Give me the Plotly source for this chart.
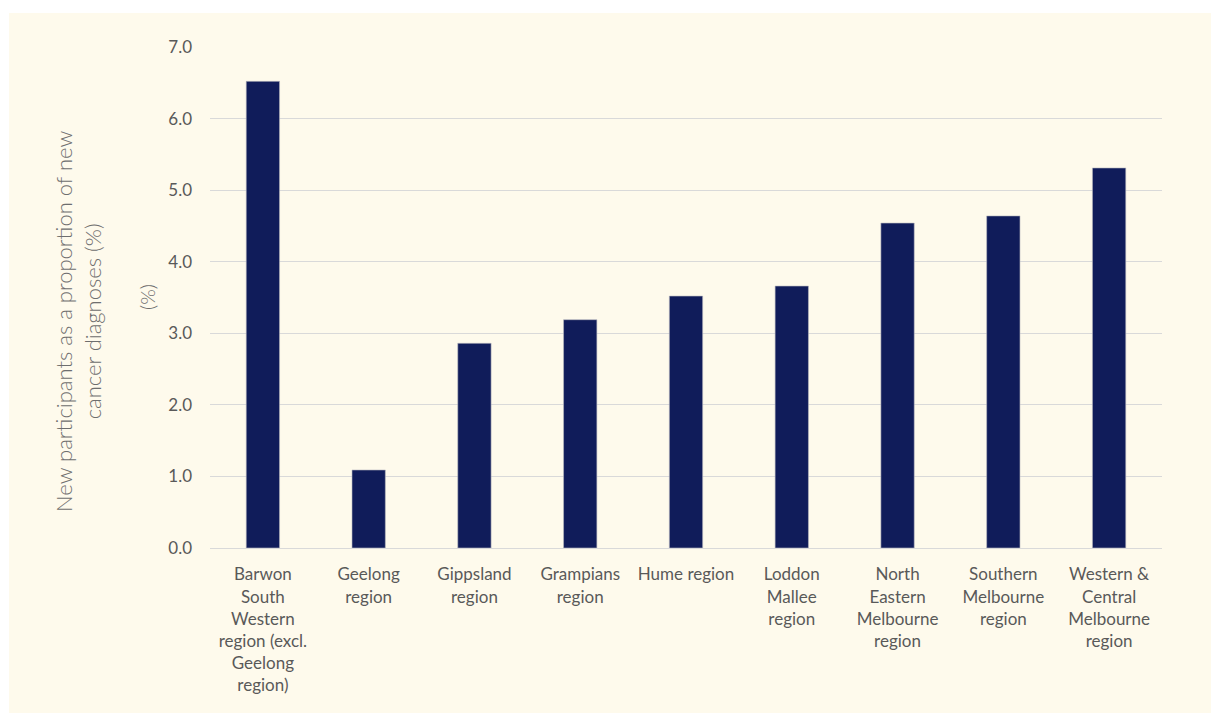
import plotly.graph_objects as go

categories = [
    "Barwon<br>South<br>Western<br>region (excl.<br>Geelong<br>region)",
    "Geelong<br>region",
    "Gippsland<br>region",
    "Grampians<br>region",
    "Hume region",
    "Loddon<br>Mallee<br>region",
    "North<br>Eastern<br>Melbourne<br>region",
    "Southern<br>Melbourne<br>region",
    "Western &<br>Central<br>Melbourne<br>region",
]
values = [6.52, 1.09, 2.86, 3.19, 3.52, 3.66, 4.54, 4.64, 5.31]
y_ticks = [0, 1, 2, 3, 4, 5, 6, 7]

CREAM = "#FEFAEC"
BAR = "#101C5A"
FONT = "Lato, 'Open Sans', sans-serif"

fig = go.Figure()
fig.add_trace(go.Bar(
    x=categories, y=values,
    marker=dict(color=BAR, line=dict(color="#B8B8C0", width=0.6)),
    width=0.315,
))

fig.update_layout(
    width=1211, height=713,
    margin=dict(l=210, r=49, t=47, b=165),
    paper_bgcolor="white",
    plot_bgcolor="rgba(0,0,0,0)",
    showlegend=False,
    font=dict(family=FONT, size=17, color="#595959"),
    xaxis=dict(
        showgrid=False, showline=True, linecolor="#D9D9D9", linewidth=1,
        ticks="", tickfont=dict(size=17, color="#595959"), ticklabelstandoff=11,
    ),
    yaxis=dict(
        range=[0, 7], tickvals=y_ticks, tickformat=".1f",
        showgrid=True, gridcolor="#D9D9D9", gridwidth=1,
        zeroline=False, showline=False, ticks="",
        tickfont=dict(size=17, color="#595959"), ticklabelstandoff=17,
    ),
    shapes=[dict(
        type="rect", xref="paper", yref="paper",
        x0=-0.2111, x1=1.06, y0=-0.34, y1=1.0679,
        fillcolor=CREAM, line=dict(width=0), layer="below",
    )],
    annotations=[
        dict(
            text="New participants as a proportion of new<br>cancer diagnoses (%)",
            xref="paper", yref="paper", x=(78 - 210) / 952, y=(548 - 322) / 501,
            textangle=-90, showarrow=False, xanchor="center", yanchor="middle",
            font=dict(family=FONT, size=22, color="#6E6E6E", weight=300),
        ),
        dict(
            text="(%)",
            xref="paper", yref="paper", x=(147 - 210) / 952, y=(548 - 297) / 501,
            textangle=-90, showarrow=False, xanchor="center", yanchor="middle",
            font=dict(family=FONT, size=20, color="#6E6E6E", weight=300),
        ),
    ],
)

fig.write_html("out.html")
